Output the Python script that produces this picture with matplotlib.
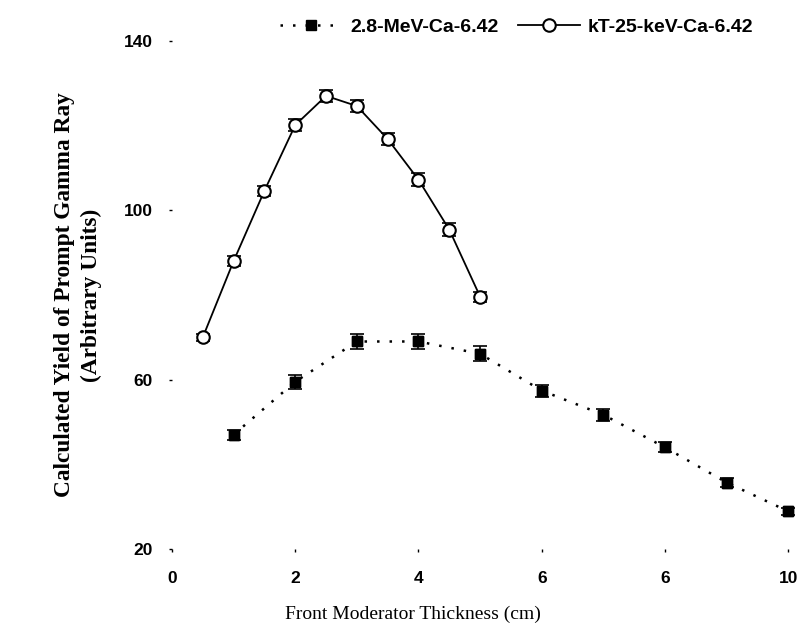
import numpy as np
import matplotlib.pyplot as plt

# thickness (cm) and yields
x_fast = [1, 2, 3, 4, 5, 6, 7, 8, 9, 10]
y_fast = [47.0, 59.5, 69.0, 69.0, 66.1, 57.4, 51.7, 44.0, 35.7, 28.9]
err_fast = [1.2, 1.6, 1.8, 1.8, 1.8, 1.4, 1.4, 1.2, 1.0, 0.8]

x_therm = [0.5, 1, 1.5, 2, 2.5, 3, 3.5, 4, 4.5, 5]
y_therm = [70.0, 88.0, 104.6, 120.1, 127.0, 124.6, 116.8, 107.2, 95.4, 79.6]
err_therm = [0.8, 1.2, 1.2, 1.5, 1.5, 1.5, 1.5, 1.5, 1.5, 1.2]

xticks = [0, 2, 4, 6, 8, 10]
xtick_labels = ["0", "2", "4", "6", "6", "10"]
yticks = [20, 60, 100, 140]

label_fast = "2.8-MeV-Ca-6.42"
label_therm = "kT-25-keV-Ca-6.42"

fig = plt.figure(figsize=(8, 6.38), dpi=100)
ax = fig.add_axes([0.215, 0.1395, 0.778, 0.7965])

ax.errorbar(x_fast, y_fast, yerr=err_fast, fmt="s", color="black", ms=7,
            capsize=5, elinewidth=1.2, capthick=1.2, clip_on=False, zorder=3)
l1, = ax.plot(x_fast, y_fast, color="black", linestyle=(0, (1, 4)), lw=1.8,
              marker="s", ms=7, clip_on=False)

ax.errorbar(x_therm, y_therm, yerr=err_therm, fmt="none", ecolor="black",
            capsize=5, elinewidth=1.2, capthick=1.2, clip_on=False, zorder=3)
l2, = ax.plot(x_therm, y_therm, color="black", lw=1.3, marker="o", ms=9,
              mfc="white", mec="black", mew=1.5, clip_on=False, zorder=4)

ax.set_xlim(0, 10.1)
ax.set_ylim(20, 140)
for s in ax.spines.values():
    s.set_visible(False)

ax.set_xticks(xticks)
ax.set_xticklabels(xtick_labels)
ax.set_yticks(yticks)
ax.tick_params(axis="x", length=2, width=1, pad=14)
ax.tick_params(axis="y", length=2, width=1, pad=12)
for t in ax.get_xticklabels() + ax.get_yticklabels():
    t.set_fontfamily("Liberation Sans")
    t.set_fontweight("bold")
    t.set_fontsize(12.5)

ax.set_xlabel("Front Moderator Thickness (cm)", family="Liberation Serif",
              fontsize=14)
ax.xaxis.set_label_coords(0.387, -0.112)
ax.set_ylabel("Calculated Yield of Prompt Gamma Ray\n(Arbitrary Units)",
              family="Liberation Serif", fontweight="bold", fontsize=16.8,
              linespacing=1.35)
ax.yaxis.set_label_coords(-0.112, 0.5)

fig.legend([l1, l2], [label_fast, label_therm], ncol=2, frameon=False,
           loc="center", bbox_to_anchor=(0.646, 0.957), handlelength=3.2,
           columnspacing=1.0, handletextpad=0.4,
           prop={"family": "Liberation Sans", "weight": "bold", "size": 14})

fig.savefig("out.png", dpi=100)
